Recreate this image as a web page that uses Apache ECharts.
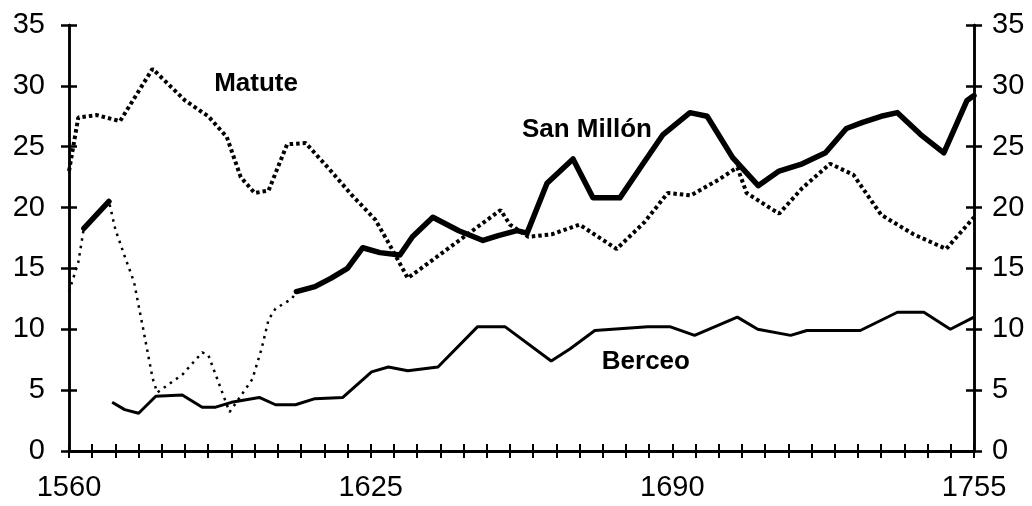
<!DOCTYPE html>
<html>
<head>
<meta charset="utf-8">
<script src="https://cdn.jsdelivr.net/npm/echarts@6/dist/echarts.min.js"></script>
<style>
  html, body { margin: 0; padding: 0; background: #fff; }
  #chart { width: 1032px; height: 506px; }
</style>
</head>
<body>
<div id="chart"></div>
<script>
// labelled years on the x axis, ticks every 5 years
const yearLabels = [1560, 1625, 1690, 1755];
const valueTicks = [0, 5, 10, 15, 20, 25, 30, 35];

// [year, value]
const matute = [
  [1560, 23], [1562, 27.4], [1566, 27.6], [1571, 27.1], [1578, 31.4],
  [1585, 28.8], [1590, 27.5], [1594, 25.8], [1597, 22.5], [1600, 21.2],
  [1603, 21.4], [1607, 25.2], [1611, 25.3], [1616, 23.2], [1621, 21],
  [1626, 19], [1629, 17], [1633, 14.2], [1653, 19.8], [1655, 18.6],
  [1659, 17.6], [1664, 17.8], [1670, 18.6], [1678, 16.6], [1684, 18.8],
  [1689, 21.2], [1694, 21], [1700, 22.3], [1704, 23.3], [1706, 21.2],
  [1713, 19.5], [1718, 21.6], [1724, 23.6], [1729, 22.7], [1735, 19.4],
  [1742, 17.8], [1749, 16.6], [1755, 19.2]
];

// thick line; '-' breaks the line between the two stretches
const sanMillon = [
  [1563.2, 18.3], [1568.6, 20.5], [1590, '-'],
  [1609, 13.1], [1613, 13.5], [1616.5, 14.2], [1620, 15], [1623.3, 16.7],
  [1627, 16.3], [1631.3, 16.1], [1634, 17.6], [1638.4, 19.2], [1644, 18.1],
  [1649.2, 17.3], [1652.5, 17.7], [1656.5, 18.1], [1658.7, 17.9], [1663, 22],
  [1668.6, 24], [1672.9, 20.8], [1678.7, 20.8], [1683.5, 23.5], [1688, 26],
  [1693.8, 27.8], [1697.5, 27.5], [1703, 24.1], [1708.5, 21.8], [1713, 23],
  [1718, 23.6], [1723, 24.5], [1727.5, 26.5], [1731, 27], [1735, 27.5],
  [1738.5, 27.8], [1743.5, 26], [1748.5, 24.5], [1753.5, 28.8], [1755, 29.2]
];

// San Millón before 1609, thin dotted
const sanMillonEarly = [
  [1560, 13.1], [1562, 15.5], [1563.2, 18.3], [1568.6, 20.5], [1570, 18.2],
  [1572, 16], [1574, 13.9], [1576, 10], [1578, 6], [1579, 4.8],
  [1584.5, 6.3], [1588.7, 8.1], [1590, 7.9], [1594.6, 3.2], [1599.5, 5.9],
  [1601.5, 8.4], [1603, 10.8], [1604.5, 11.7], [1608, 12.5], [1609, 13.1]
];

const berceo = [
  [1569.3, 4.0], [1572, 3.4], [1575, 3.1], [1578.7, 4.5], [1584.4, 4.6],
  [1588.7, 3.6], [1591.6, 3.6], [1595, 4.0], [1601, 4.4], [1604.5, 3.8],
  [1608.8, 3.8], [1613, 4.3], [1619, 4.4], [1625.2, 6.5], [1628.8, 6.9],
  [1633, 6.6], [1639.5, 6.9], [1648, 10.2], [1654, 10.2], [1663.9, 7.4],
  [1668, 8.4], [1673.3, 9.9], [1684.7, 10.2], [1689.6, 10.2], [1694.8, 9.5],
  [1704, 11], [1708.4, 10], [1715.5, 9.5], [1719, 9.9], [1730.5, 9.9],
  [1738.5, 11.4], [1744.2, 11.4], [1749.9, 10], [1755, 11]
];

const chart = echarts.init(document.getElementById('chart'));

const tickFont = {
  color: '#000',
  fontFamily: 'Liberation Sans',
  fontSize: 29
};
const nameFont = {
  color: '#000',
  fontFamily: 'Liberation Sans',
  fontSize: 26,
  fontWeight: 'bold'
};

function xAxisDef(inside, labels) {
  return {
    type: 'value',
    min: 1560,
    max: 1755,
    interval: 5,
    position: 'bottom',
    axisLine: { show: true, lineStyle: { color: '#000', width: 3 } },
    axisTick: { show: true, inside: inside, length: 7, lineStyle: { color: '#000', width: 2 } },
    axisLabel: {
      show: labels,
      margin: 22,
      ...tickFont,
      formatter: function (v) {
        return yearLabels.indexOf(v) >= 0 ? String(v) : '';
      }
    },
    splitLine: { show: false }
  };
}

function yAxisDef(pos, inside, labels) {
  return {
    type: 'value',
    min: 0,
    max: 35,
    interval: 5,
    position: pos,
    axisLine: { show: true, lineStyle: { color: '#000', width: 2.5 } },
    axisTick: { show: true, inside: inside, length: 8, lineStyle: { color: '#000', width: 2.5 } },
    axisLabel: {
      show: labels,
      margin: pos === 'left' ? 24 : 18,
      ...tickFont,
      formatter: function (v) {
        return valueTicks.indexOf(v) >= 0 ? String(v) : '';
      }
    },
    splitLine: { show: false }
  };
}

function nameMark(text, at) {
  return {
    symbol: 'circle',
    symbolSize: 1,
    itemStyle: { color: 'rgba(0,0,0,0)' },
    label: { show: true, position: 'inside', formatter: text, ...nameFont },
    data: [{ coord: at }]
  };
}

chart.setOption({
  animation: false,
  backgroundColor: '#fff',
  grid: { left: 69, right: 58, top: 25, bottom: 55 },
  xAxis: [xAxisDef(false, true), xAxisDef(true, false)],
  yAxis: [
    yAxisDef('left', false, true),
    yAxisDef('left', true, false),
    yAxisDef('right', false, true),
    yAxisDef('right', true, false)
  ],
  series: [
    {
      name: 'Berceo',
      type: 'line',
      data: berceo,
      showSymbol: false,
      lineStyle: { color: '#000', width: 3 },
      markPoint: nameMark('Berceo', [1684.3, 7.3])
    },
    {
      name: 'San Millón early',
      type: 'line',
      data: sanMillonEarly,
      showSymbol: false,
      lineStyle: { color: '#000', width: 2.5, type: [2.5, 5] }
    },
    {
      name: 'Matute',
      type: 'line',
      data: matute,
      showSymbol: false,
      lineStyle: { color: '#000', width: 4, type: [3.5, 3] },
      markPoint: nameMark('Matute', [1600.3, 30.15])
    },
    {
      name: 'San Millón',
      type: 'line',
      data: sanMillon,
      showSymbol: false,
      lineStyle: { color: '#000', width: 5.5, join: 'round', cap: 'round' },
      markPoint: nameMark('San Millón', [1671.6, 26.4])
    }
  ]
});
</script>
</body>
</html>
